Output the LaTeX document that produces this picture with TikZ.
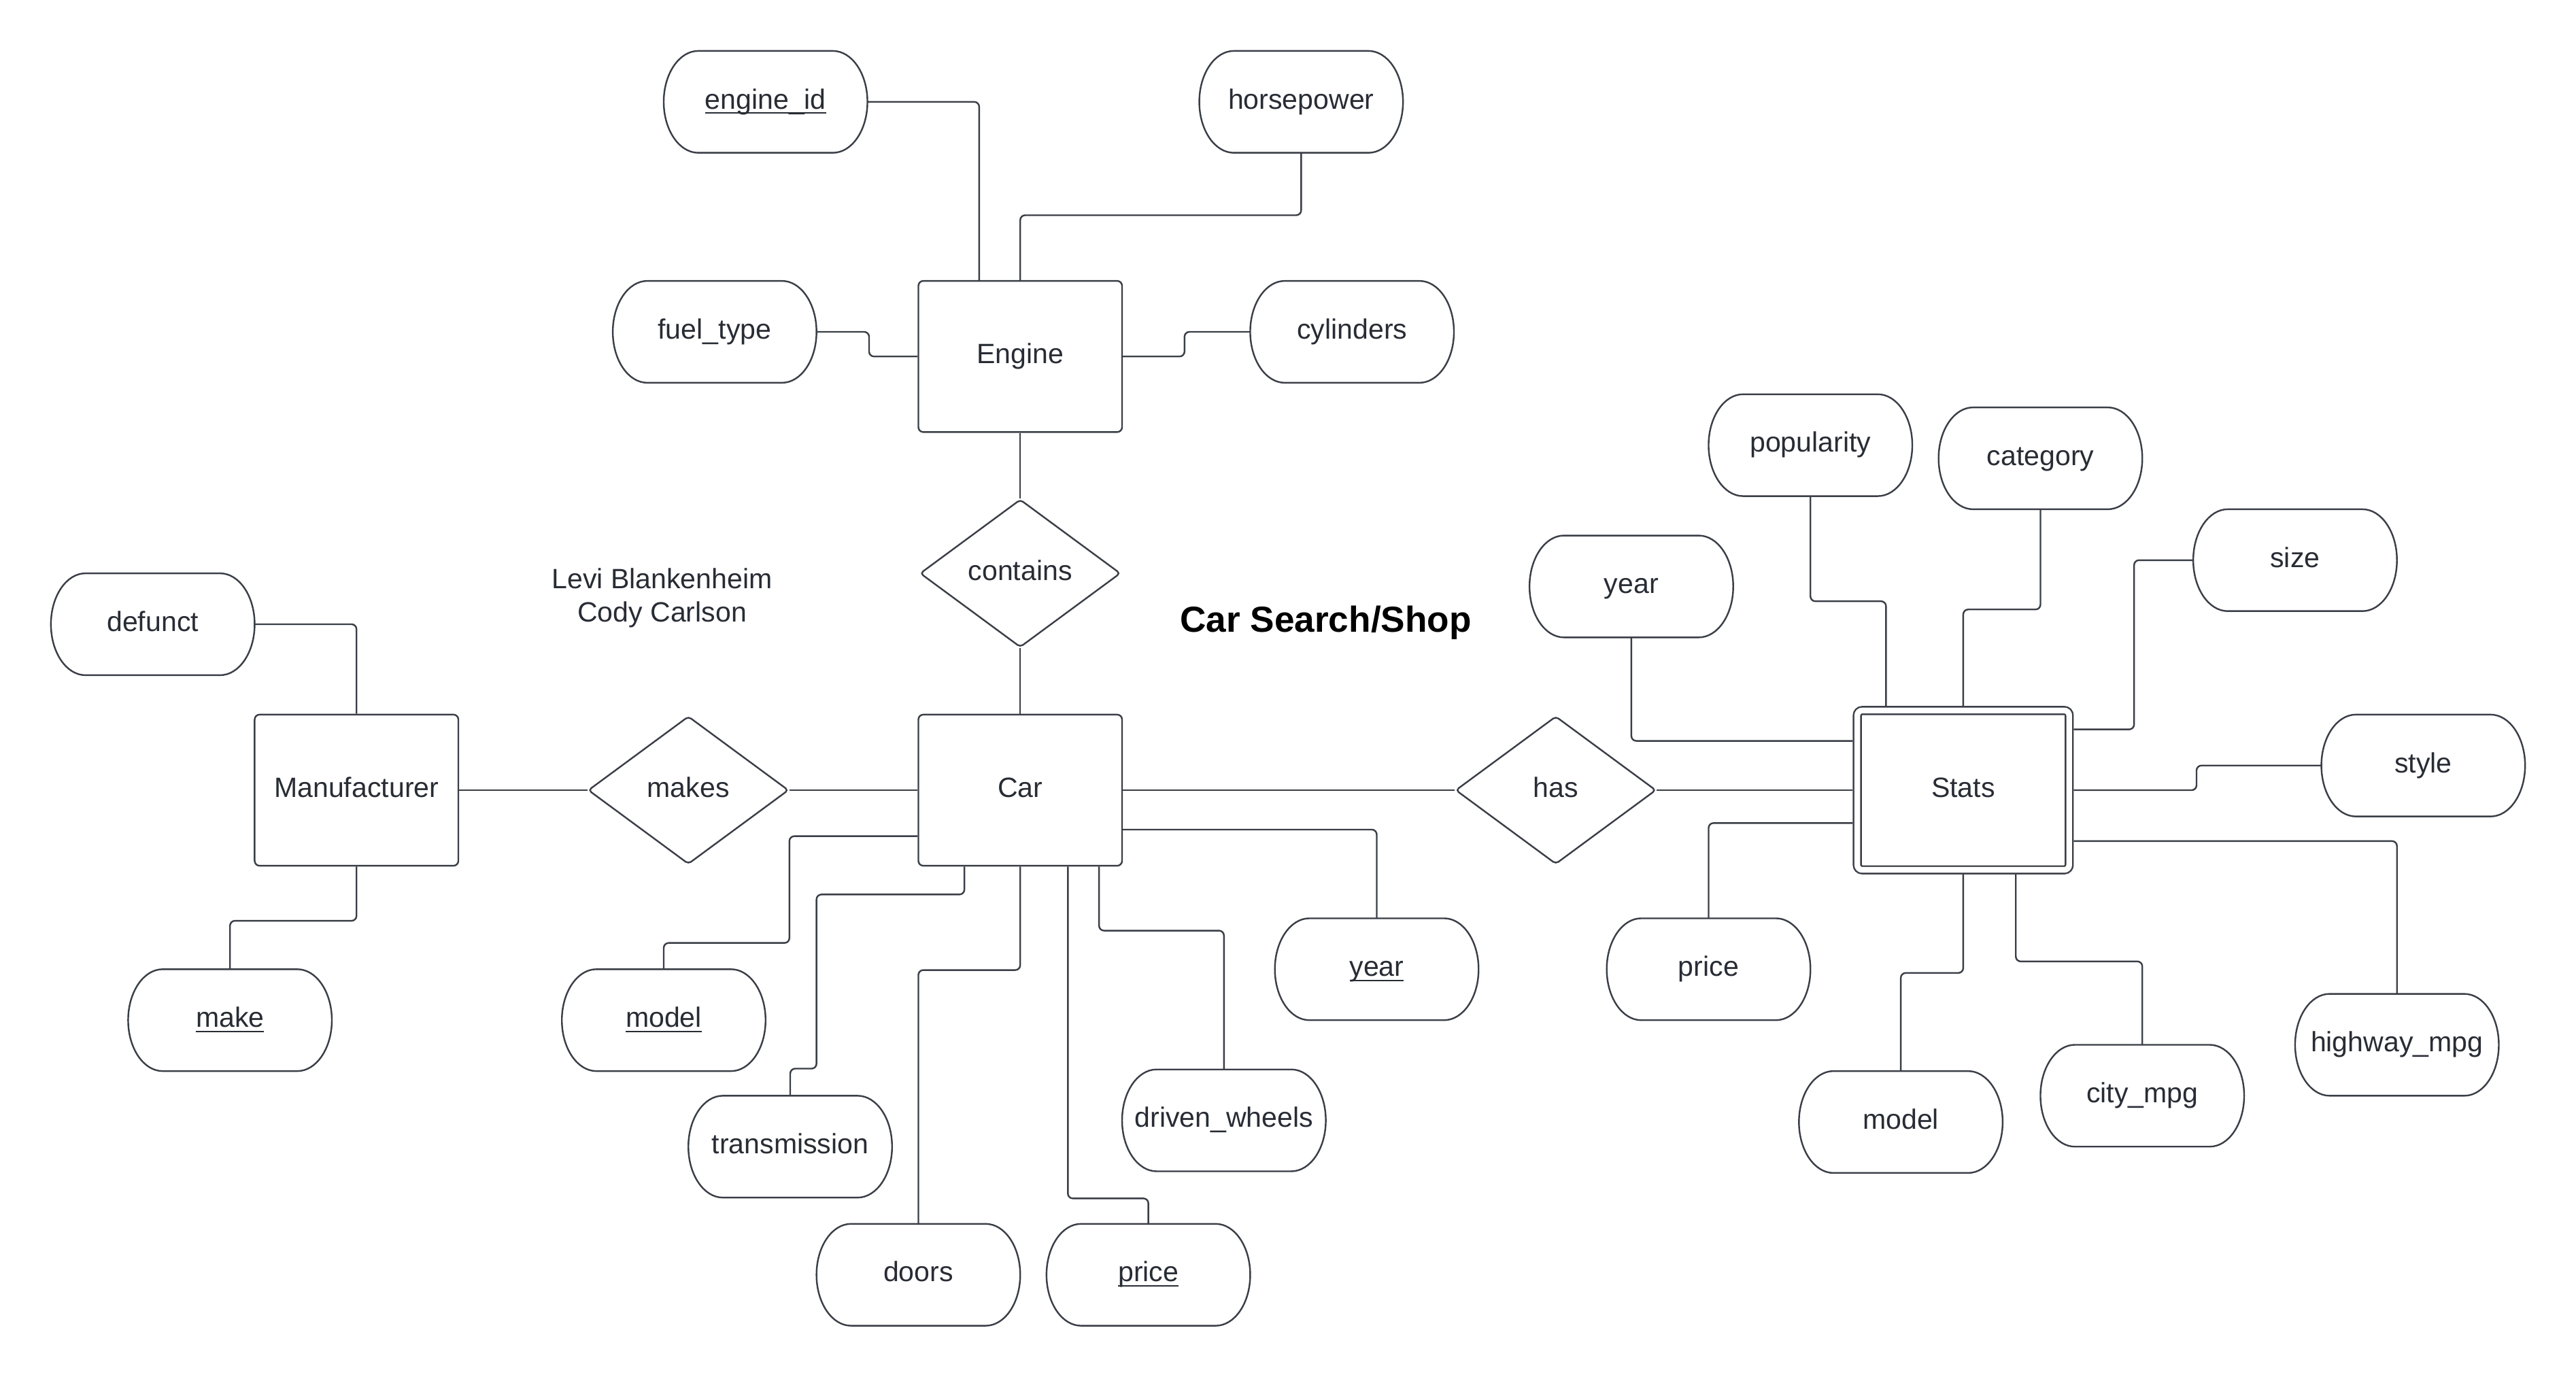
\documentclass[tikz,border=0pt]{standalone}
\usepackage{fontspec}
\setmainfont{Liberation Sans}
\usetikzlibrary{shapes.geometric}
\definecolor{lineclr}{RGB}{58,62,70}
\definecolor{textclr}{RGB}{40,44,52}
% underline for key attributes, crossing the descenders
\newcommand{\keyattr}[1]{\setbox0\hbox{#1}\rlap{\rule[-3pt]{\wd0}{0.9pt}}\box0}

\begin{document}
\begin{tikzpicture}
    [
        x=1pt, y=-1pt,
        line width=1pt,
        every node/.style={text=textclr, font=\fontsize{17}{20}\selectfont},
        boxtext/.style={text height=12.5pt, text depth=4pt},
        entity/.style={boxtext, draw=lineclr, rectangle, rounded corners=3pt, minimum width=124pt, minimum height=92pt, inner sep=0pt},
        weakentity/.style={boxtext, draw=lineclr, rectangle, rounded corners=3pt, double, double distance=3.5pt, minimum width=129pt, minimum height=97pt, inner sep=0pt, outer sep=2.75pt},
        relation/.style={boxtext, draw=lineclr, diamond, aspect=1.36, minimum width=122pt, minimum height=90pt, inner sep=0pt, rounded corners=2pt},
        attr/.style={boxtext, minimum width=124pt, minimum height=62pt, inner sep=0pt, outer sep=0pt},
        link/.style={draw=lineclr, rounded corners=3pt}
    ]
    \useasboundingbox (0,0) rectangle (1568,838);

    % entities and relations
    \node[entity] (eng) at (621,217) {Engine};
    \node[entity] (car) at (621,481) {Car};
    \node[entity] (manu) at (217,481) {Manufacturer};
    \node[weakentity] (stats) at (1195,481) {Stats};
    \node[relation] (contains) at (621,349) {contains};
    \node[relation] (makes) at (419,481) {makes};
    \node[relation] (has) at (947,481) {has};

    % attributes
    \node[attr] (engid) at (466,62) {\keyattr{engine\_id}};
    \node[attr] (hp) at (792,62) {horsepower};
    \node[attr] (fuel) at (435,202) {fuel\_type};
    \node[attr] (cyl) at (823,202) {cylinders};
    \node[attr] (defunct) at (93,380) {defunct};
    \node[attr] (make) at (140,621) {\keyattr{make}};
    \node[attr] (carmodel) at (404,621) {\keyattr{model}};
    \node[attr] (trans) at (481,698) {transmission};
    \node[attr] (doors) at (559,776) {doors};
    \node[attr] (carprice) at (699,776) {\keyattr{price}};
    \node[attr] (driven) at (745,682) {driven\_wheels};
    \node[attr] (caryear) at (838,590) {\keyattr{year}};
    \node[attr] (statsyear) at (993,357) {year};
    \node[attr] (pop) at (1102,271) {popularity};
    \node[attr] (cat) at (1242,279) {category};
    \node[attr] (size) at (1397,341) {size};
    \node[attr] (style) at (1475,466) {style};
    \node[attr] (statsprice) at (1040,590) {price};
    \node[attr] (statsmodel) at (1157,683) {model};
    \node[attr] (city) at (1304,667) {city\_mpg};
    \node[attr] (hwy) at (1459,636) {highway\_mpg};

    \foreach \n in {engid,hp,fuel,cyl,defunct,make,carmodel,trans,doors,carprice,driven,caryear,statsyear,pop,cat,size,style,statsprice,statsmodel,city,hwy}
        \draw[lineclr] ([xshift=21pt]\n.north west) -- ([xshift=-21pt]\n.north east)
            arc[start angle=90, end angle=-90, x radius=21pt, y radius=31pt]
            -- ([xshift=21pt]\n.south west)
            arc[start angle=270, end angle=90, x radius=21pt, y radius=31pt] -- cycle;

    \node[align=center] (authors) at (403,364) {Levi Blankenheim\\Cody Carlson};
    \node[font=\fontsize{22}{26}\selectfont\bfseries, text=black] (title) at (807,379) {Car Search/Shop};

    % Engine
    \draw[link] (engid.east) -| ([xshift=-25pt]eng.north);
    \draw[link] (hp.south) -- ++(0,38) -| (eng.north);
    \draw[link] (fuel.east) -- ++(32,0) |- (eng.west);
    \draw[link] (cyl.west) -- ++(-40,0) |- (eng.east);
    \draw[link] (eng.south) -- (contains.north);
    \draw[link] (contains.south) -- (car.north);

    % Manufacturer
    \draw[link] (defunct.east) -| (manu.north);
    \draw[link] (manu.south) -- ++(0,33) -| (make.north);
    \draw[link] (manu.east) -- (makes.west);
    \draw[link] (makes.east) -- (car.west);

    % Car
    \draw[link] ([yshift=-28pt]car.west) -- ++(-78,0) -- ++(0,65) -| (carmodel.north);
    \draw[link] ([xshift=-34pt]car.south) -- ++(0,17) -| ++(-90,106) -| (trans.north);
    \draw[link] (car.south) -- ++(0,63) -| (doors.north);
    \draw[link] ([xshift=29pt]car.south) -- ++(0,202) -| (carprice.north);
    \draw[link] ([xshift=48pt]car.south) -- ++(0,39) -| (driven.north);
    \draw[link] ([yshift=-24pt]car.east) -| (caryear.north);
    \draw[link] (car.east) -- (has.west);
    \draw[link] (has.east) -- (stats.west);

    % Stats
    \draw[link] (statsyear.south) |- ([yshift=30pt]stats.west);
    \draw[link] (pop.south) -- ++(0,64) -| ([xshift=-47pt]stats.north);
    \draw[link] (cat.south) -- ++(0,61) -| (stats.north);
    \draw[link] (size.west) -- ++(-36,0) |- ([yshift=37pt]stats.east);
    \draw[link] (style.west) -- ++(-76,0) |- (stats.east);
    \draw[link] ([yshift=-31pt]stats.east) -| (hwy.north);
    \draw[link] ([yshift=-20pt]stats.west) -| (statsprice.north);
    \draw[link] (stats.south) -- ++(0,60) -| (statsmodel.north);
    \draw[link] ([xshift=32pt]stats.south) -- ++(0,53) -| (city.north);
\end{tikzpicture}
\end{document}
